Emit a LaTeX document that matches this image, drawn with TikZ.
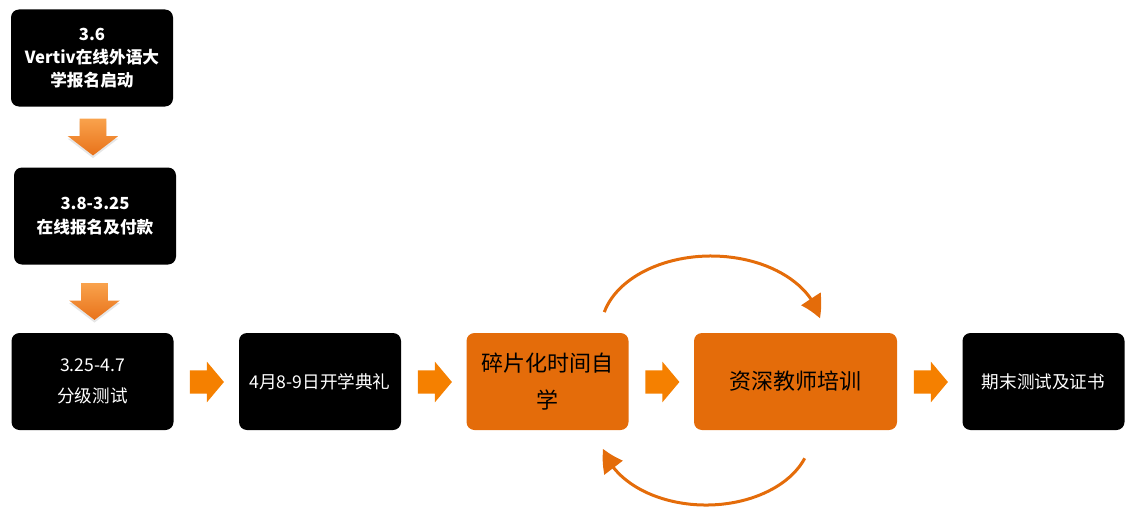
\documentclass[tikz,border=0pt]{standalone}
\usepackage{fontspec}
\setmainfont{Noto Sans CJK SC}
\usetikzlibrary{shapes.arrows,arrows.meta,bending,shadows}
\definecolor{boxorange}{HTML}{E46C0A}
\definecolor{arroworange}{HTML}{F58000}
\definecolor{downtop}{HTML}{F9A24C}
\definecolor{downbot}{HTML}{E8721A}
\tikzset{
    stage/.style={rounded corners=6pt, minimum width=121.5pt, minimum height=72.75pt, align=center, inner sep=2pt},
    stagedark/.style={stage, fill=black, text=white, font=\fontsize{13.2}{23}\selectfont},
    stagebold/.style={stage, fill=black, text=white, font=\bfseries\fontsize{12.5}{17.5}\selectfont},
    stagelight/.style={stage, fill=boxorange, text=black, font=\fontsize{16.5}{28}\selectfont},
    % block arrows
    flowright/.style={single arrow, fill=arroworange, inner sep=8.6pt, minimum height=25.5pt, single arrow head extend=6.4pt, single arrow tip angle=100},
    flowdown/.style={single arrow, shape border rotate=270, top color=downtop, bottom color=downbot, draw=none, inner sep=9.75pt, minimum height=27pt, single arrow head extend=9pt, single arrow tip angle=105, drop shadow={opacity=0.2, shadow xshift=0pt, shadow yshift=-2pt}},
    % loop arcs
    loop/.style={draw=boxorange, line width=2.25pt, -{Triangle[length=16pt, width=17pt, bend]}}
}
\begin{document}
\begin{tikzpicture}[x=0.75pt, y=0.75pt]
\useasboundingbox (0,0) rectangle (1132,512);

% Registration column
\node[stagebold] (launch) at (92,454) {3.6\\Vertiv在线外语大\\学报名启动};
\node[flowdown] (down1) at (93,380) {};
\node[stagebold] (signup) at (95,296) {3.8-3.25\\在线报名及付款};
\node[flowdown] (down2) at (94.5,215.5) {};

% Main row
\node[stagedark] (test) at (92.5,130.5) {3.25-4.7\\分级测试};
\node[flowright] (right1) at (202,130) {};
\node[stagedark] (opening) at (320,130.5) {4月8-9日开学典礼};
\node[flowright] (right2) at (430,130) {};
\node[stagelight] (selfstudy) at (547.5,130.5) {碎片化时间自\\学};
\node[flowright] (right3) at (657.5,130) {};
\node[stagelight, minimum width=152.25pt] (teacher) at (795.5,130.5) {资深教师培训};
\node[flowright] (right4) at (926,130) {};
\node[stagedark] (final) at (1043.5,130.5) {期末测试及证书};

% Cycle between self study and teacher training
\coordinate (loopTop) at (604.3,199.9);
\coordinate (loopBottom) at (804.7,53.7);
\draw[loop] (loopTop) arc[start angle=166, end angle=9, x radius=110, y radius=74];
\draw[loop] (loopBottom) arc[start angle=-20, end angle=-168, x radius=105, y radius=71];
\end{tikzpicture}
\end{document}
